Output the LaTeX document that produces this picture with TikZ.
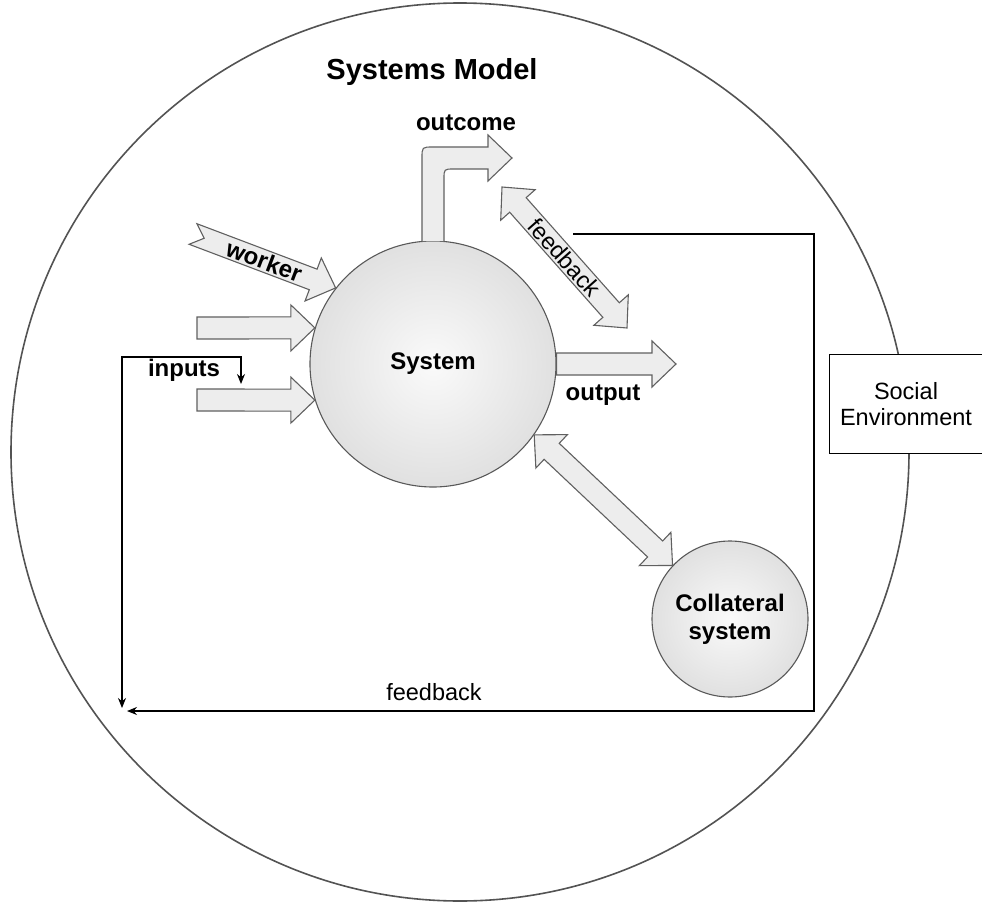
\documentclass[tikz,border=0pt]{standalone}
\usepackage{fontspec}
\setmainfont{Liberation Sans}
\usetikzlibrary{calc,arrows.meta}

% broad arrow from #2 to #3, #1 = depth of the notch in the tail
\newcommand{\fatarrow}[3][0pt]{%
  \draw[fat] let \p1=(#2), \p2=(#3),
      \n1={atan2(\y2-\y1,\x2-\x1)}, \n2={veclen(\x2-\x1,\y2-\y1)} in
    [shift={(\p1)}, rotate=\n1]
    (0pt,11pt) -- (\n2-24pt,11pt) -- (\n2-24pt,23pt) -- (\n2,0pt)
    -- (\n2-24pt,-23pt) -- (\n2-24pt,-11pt) -- (0pt,-11pt) -- (#1,0pt) -- cycle;}

% broad arrow with a head at both ends
\newcommand{\fatboth}[2]{%
  \draw[fat] let \p1=(#1), \p2=(#2),
      \n1={atan2(\y2-\y1,\x2-\x1)}, \n2={veclen(\x2-\x1,\y2-\y1)} in
    [shift={(\p1)}, rotate=\n1]
    (0pt,0pt) -- (24pt,23pt) -- (24pt,11pt) -- (\n2-24pt,11pt) -- (\n2-24pt,23pt)
    -- (\n2,0pt) -- (\n2-24pt,-23pt) -- (\n2-24pt,-11pt) -- (24pt,-11pt)
    -- (24pt,-23pt) -- cycle;}

\begin{document}
\begin{tikzpicture}[
	x=1pt, y=-1pt,
	>={Stealth[length=10pt,width=8pt]},
	fat/.style={draw=gray!75!black, line width=1.1pt, fill=gray!14, line join=miter},
	ball/.style={circle, draw=gray!70!black, line width=1.1pt, inner sep=0pt,
		shading=radial, inner color=gray!4, outer color=gray!24},
	lbl/.style={font=\fontsize{24}{28}\selectfont\bfseries, align=center},
	txt/.style={font=\fontsize{23.5}{26}\selectfont, align=center},
	fbline/.style={line width=1.2pt, black}
  ]
  \useasboundingbox (0,0) rectangle (982,904);

  \node[circle, draw=gray!65!black, line width=1.6pt, inner sep=0pt, minimum size=898pt] (env) at (460,452) {};
  \node[txt, draw, fill=white, line width=0.9pt, minimum width=154pt, minimum height=99pt] (soc) at (906,404) {Social\\Environment};

  \node[lbl, font=\fontsize{29}{34}\selectfont\bfseries] (title) at (432,72) {Systems Model};

  \node[ball, minimum size=246pt, lbl] (sys) at (433,364) {System};
  \node[ball, minimum size=156pt, lbl] (col) at (730,619) {Collateral\\system};

  % free ends
  \coordinate (wk) at (193,234);
  \coordinate (in1) at (197,328);
  \coordinate (in2) at (197,400);
  \coordinate (out) at (676,364);
  \coordinate (fbA) at (502,187);
  \coordinate (fbB) at (627,328);
  \coordinate (fbs) at (573,234);
  \coordinate (fbr) at (814,711);
  \coordinate (fbl) at (127,711);
  \coordinate (ib) at (122,708);
  \coordinate (ic) at (122,357);
  \coordinate (it) at (241,384);

  % feedback loop
  \draw[fbline,->] (fbs) -| (fbr) -- (fbl);
  \draw[fbline,<->] (ib) -- (ic) -| (it);

  % broad arrows
  \fatarrow[12pt]{wk}{sys.142}
  \fatarrow{in1}{sys.163}
  \fatarrow{in2}{sys.197}
  \fatarrow{sys.east}{out}
  \fatboth{fbA}{fbB}
  \fatboth{sys.-35}{col.137}
  \draw[fat] (422,241) -- (422,158) .. controls (422,147) .. (433,147) -- (488,147)
    -- (488,135) -- (512,158) -- (488,181) -- (488,169) -- (454,169)
    .. controls (444,169) .. (444,179) -- (444,241);

  % labels
  \path (wk) -- (sys.142) node[midway, sloped, lbl] (wlab) {worker};
  \path (fbA) -- (fbB) node[midway, sloped, txt] (flab) {feedback};
  \node[lbl] (outc) at (466,123) {outcome};
  \node[lbl] (inp) at (184,370) {inputs};
  \node[lbl] (outp) at (603,395) {output};
  \node[txt] (fbt) at (434,692) {feedback};

\end{tikzpicture}
\end{document}
